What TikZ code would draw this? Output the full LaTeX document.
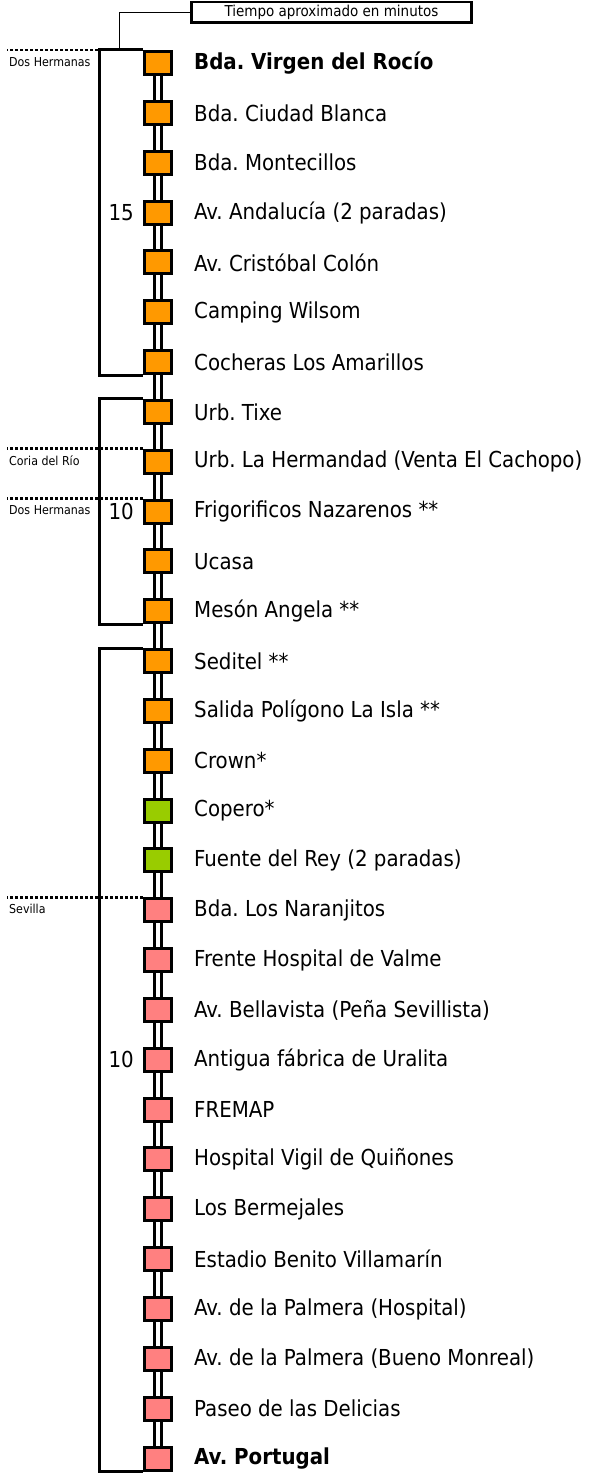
\documentclass[tikz,border=0pt]{standalone}
\usepackage{fontspec}
\setmainfont{DejaVu Sans Condensed}
\usetikzlibrary{positioning,calc}
\definecolor{naranja}{HTML}{FF9900}
\definecolor{verde}{HTML}{99CC00}
\definecolor{rosa}{HTML}{FF8080}
\frenchspacing
\tikzset{
	parada/.style={draw, line width=3pt, minimum width=27pt, minimum height=23pt, inner sep=0pt},
	via/.style={line width=3pt, double=white, double distance=4pt},
	tramo/.style={line width=3pt},
	frontera/.style={line width=2.5pt, dash pattern=on 3pt off 2pt},
	municipio/.style={font=\fontsize{12.3}{14}\selectfont, inner sep=0pt, anchor=north west},
	nombre/.style={font=\fontsize{22}{26}\selectfont, inner sep=0pt, anchor=west},
}
\begin{document}
\begin{tikzpicture}[x=1pt, y=-1pt]
	\newcommand\paso{49.84}
	\newcommand\sep{21pt}
	\newcommand\izq{-44}
	\useasboundingbox (0,0) rectangle (592,1474);
	% paradas
	\foreach \nm/\cl [count=\i from 0] in {
		\textbf{Bda. Virgen del Rocío}/naranja,
		Bda. Ciudad Blanca/naranja,
		Bda. Montecillos/naranja,
		Av. Andalucía (2 paradas)/naranja,
		Av. Cristóbal Colón/naranja,
		Camping Wilsom/naranja,
		Cocheras Los Amarillos/naranja,
		Urb. Tixe/naranja,
		Urb. La Hermandad (Venta El Cachopo)/naranja,
		Frigorificos Nazarenos **/naranja,
		Ucasa/naranja,
		Mesón Angela **/naranja,
		Seditel **/naranja,
		Salida Polígono La Isla **/naranja,
		Crown*/naranja,
		Copero*/verde,
		Fuente del Rey (2 paradas)/verde,
		Bda. Los Naranjitos/rosa,
		Frente Hospital de Valme/rosa,
		Av. Bellavista (Peña Sevillista)/rosa,
		Antigua fábrica de Uralita/rosa,
		FREMAP/rosa,
		Hospital Vigil de Quiñones/rosa,
		Los Bermejales/rosa,
		Estadio Benito Villamarín/rosa,
		Av. de la Palmera (Hospital)/rosa,
		Av. de la Palmera (Bueno Monreal)/rosa,
		Paseo de las Delicias/rosa,
		\textbf{Av. Portugal}/rosa} {
		\node[parada, fill=\cl] (s\i) at (158, 63+\i*\paso) {};
		\node[nombre] (t\i) at ([xshift=\sep]s\i.east) {\nm};
	}
	% via doble
	\foreach \i [count=\j from 1] in {0,...,27}
		\draw[via] (s\i) -- (s\j);
	% limites de municipio
	\draw[frontera] (s0.north west) -- ++(-136,0) coordinate (m1);
	\draw[frontera] (s8.north west) -- ++(-136,0) coordinate (m2);
	\draw[frontera] (s9.north west) -- ++(-136,0) coordinate (m3);
	\draw[frontera] (s17.north west) -- ++(-136,0) coordinate (m4);
	\node[municipio] (dh1) at ([shift={(2,7)}]m1) {Dos Hermanas};
	\node[municipio] (cr) at ([shift={(2,7)}]m2) {Coria del Río};
	\node[municipio] (dh2) at ([shift={(2,7)}]m3) {Dos Hermanas};
	\node[municipio] (sev) at ([shift={(2,7)}]m4) {Sevilla};
	% tramos
	\draw[tramo] (s0.north west) -- ++(\izq,0) coordinate (g1) |- (s6.south west);
	\draw[tramo] (s7.north west) -- ++(\izq,0) |- (s11.south west);
	\draw[tramo] (s12.north west) -- ++(\izq,0) |- (s28.south west);
	\node[nombre, anchor=east] (n1) at ([xshift=-9pt]s3.west) {15};
	\node[nombre, anchor=east] (n2) at ([xshift=-9pt]s9.west) {10};
	\node[nombre, anchor=east] (n3) at ([xshift=-9pt]s20.west) {10};
	% leyenda
	\node[draw, line width=2.5pt, minimum width=280pt, minimum height=20.5pt, inner sep=0pt,
		font=\fontsize{15}{17}\selectfont] (tiempo) at (331.5,12.5) {Tiempo aproximado en minutos};
	\coordinate (g0) at ($(g1)+(20.5,0)$);
	\draw[line width=1.2pt] (tiempo.west) -| (g0);
\end{tikzpicture}
\end{document}
